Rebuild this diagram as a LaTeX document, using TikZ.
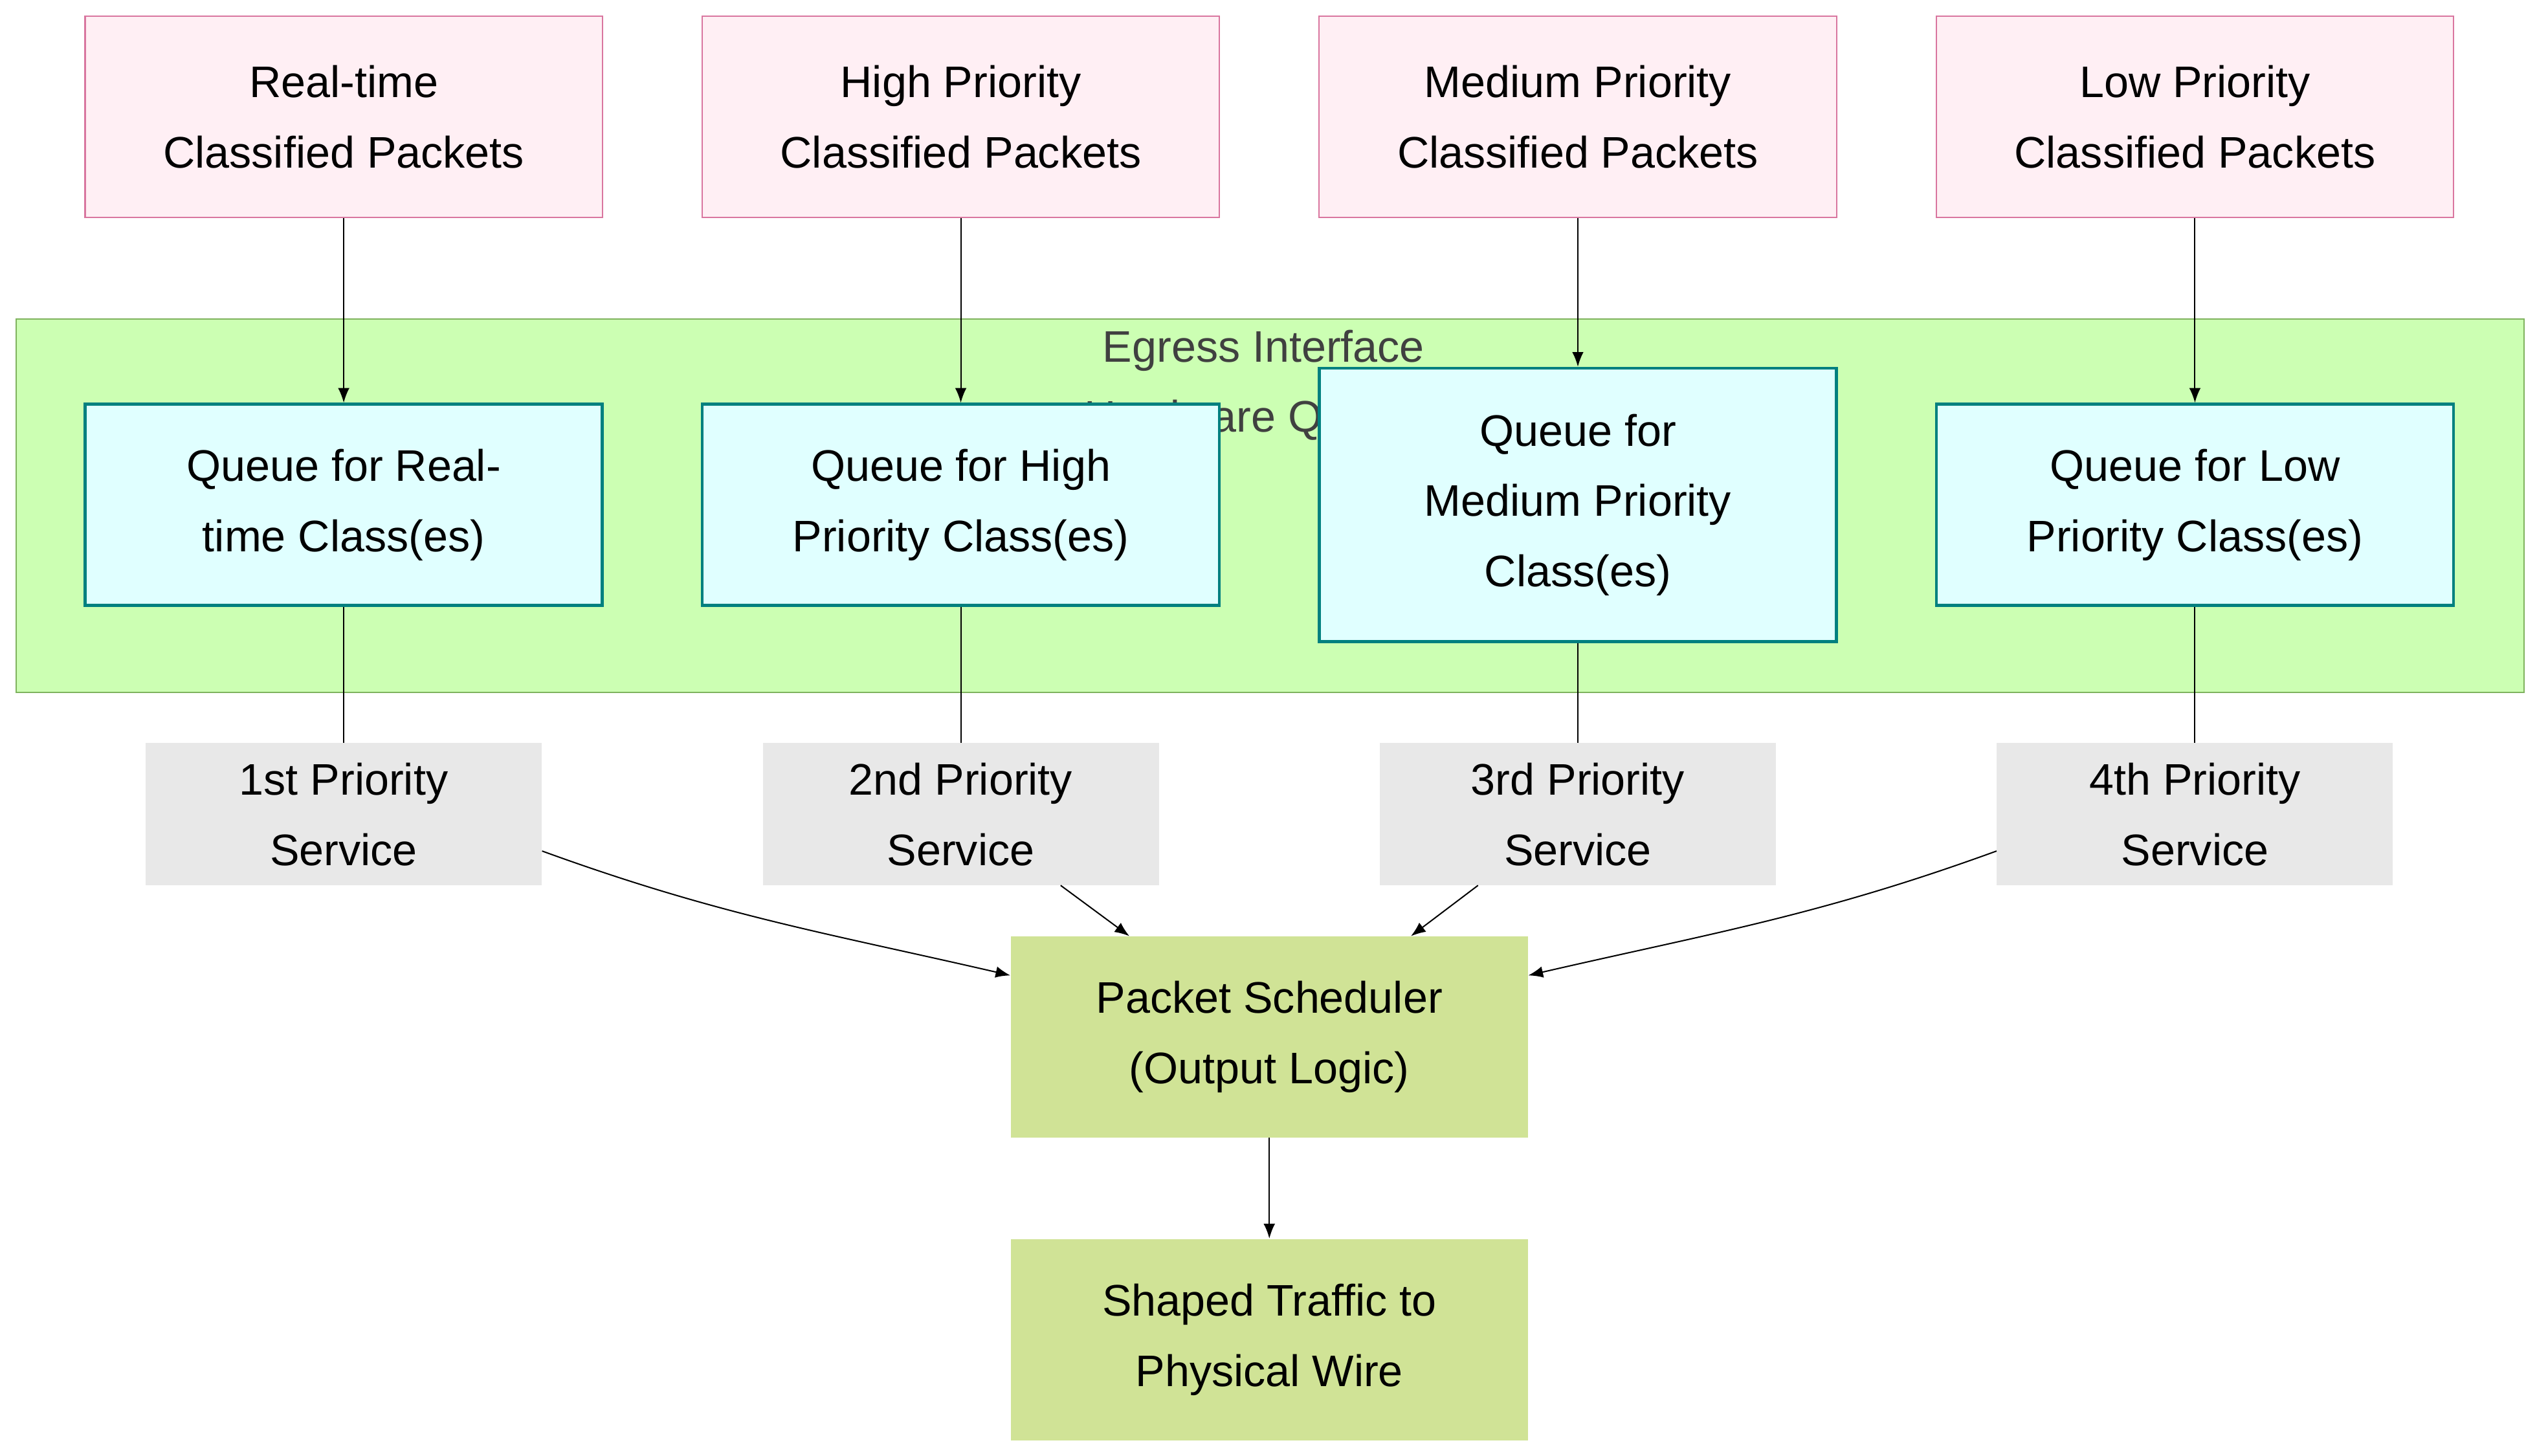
\documentclass[tikz,border=0pt]{standalone}
\usepackage{fontspec}
\setmainfont{Liberation Sans}
\usetikzlibrary{arrows.meta,positioning}
\definecolor{pinkfill}{HTML}{FFEFF4}
\definecolor{pinkline}{HTML}{D9769F}
\definecolor{queuefill}{HTML}{E0FFFF}
\definecolor{queueline}{HTML}{00807F}
\definecolor{groupfill}{HTML}{CCFFB3}
\definecolor{groupline}{HTML}{7FB25E}
\definecolor{servfill}{HTML}{E8E8E8}
\definecolor{schedfill}{HTML}{D0E396}
\tikzset{
  box/.style={minimum width=316pt, minimum height=123pt, align=center, inner sep=0pt,
    font=\fontsize{27}{43}\selectfont},
  pkt/.style={box, draw=pinkline, fill=pinkfill, line width=0.8pt},
  queue/.style={box, draw=queueline, fill=queuefill, line width=1.8pt},
  serv/.style={box, fill=servfill, minimum width=242pt, minimum height=87pt},
  sched/.style={box, fill=schedfill},
  arr/.style={-{Latex[length=9pt,width=7pt]}, line width=0.8pt},
  link/.style={line width=0.8pt}
}
\begin{document}
\begin{tikzpicture}[x=1pt,y=-1pt]
\useasboundingbox (0,0) rectangle (1550,889.6);
% group
\draw[fill=groupfill, draw=groupline, line width=0.8pt] (10,195) rectangle (1542,423);
\node[font=\fontsize{27}{43}\selectfont, text=black!75, align=center, anchor=north] (grouplabel) at (772,198) {Egress Interface\\Hardware Queues};
% classified packets
\node[pkt] (prt) at (210,71.5) {Real-time\\Classified Packets};
\node[pkt] (phi) at (587,71.5) {High Priority\\Classified Packets};
\node[pkt] (pmed) at (964,71.5) {Medium Priority\\Classified Packets};
\node[pkt] (plo) at (1341,71.5) {Low Priority\\Classified Packets};
% queues
\node[queue] (qrt) at (210,308.5) {Queue for Real-\\time Class(es)};
\node[queue] (qhi) at (587,308.5) {Queue for High\\Priority Class(es)};
\node[queue, minimum height=167pt] (qmed) at (964,308.5) {Queue for\\Medium Priority\\Class(es)};
\node[queue] (qlo) at (1341,308.5) {Queue for Low\\Priority Class(es)};
% services
\node[serv] (s1) at (210,497.5) {1st Priority\\Service};
\node[serv] (s2) at (587,497.5) {2nd Priority\\Service};
\node[serv] (s3) at (964,497.5) {3rd Priority\\Service};
\node[serv] (s4) at (1341,497.5) {4th Priority\\Service};
% scheduler
\node[sched] (sched) at (775.5,633.5) {Packet Scheduler\\(Output Logic)};
\node[sched] (wire) at (775.5,818.5) {Shaped Traffic to\\Physical Wire};

\draw[arr] (prt) -- (qrt);
\draw[arr] (phi) -- (qhi);
\draw[arr] (pmed) -- (qmed);
\draw[arr] (plo) -- (qlo);

\draw[link] (qrt) -- (s1);
\draw[link] (qhi) -- (s2);
\draw[link] (qmed) -- (s3);
\draw[link] (qlo) -- (s4);

\draw[arr] (s1.east |- 0,520) to[out=-20,in=167] (sched.west |- 0,596);
\draw[arr] (648,541) -- (690,572);
\draw[arr] (903,541) -- (862,572);
\draw[arr] (s4.west |- 0,520) to[out=200,in=13] (sched.east |- 0,596);
\draw[arr] (sched) -- (wire);
\end{tikzpicture}
\end{document}
